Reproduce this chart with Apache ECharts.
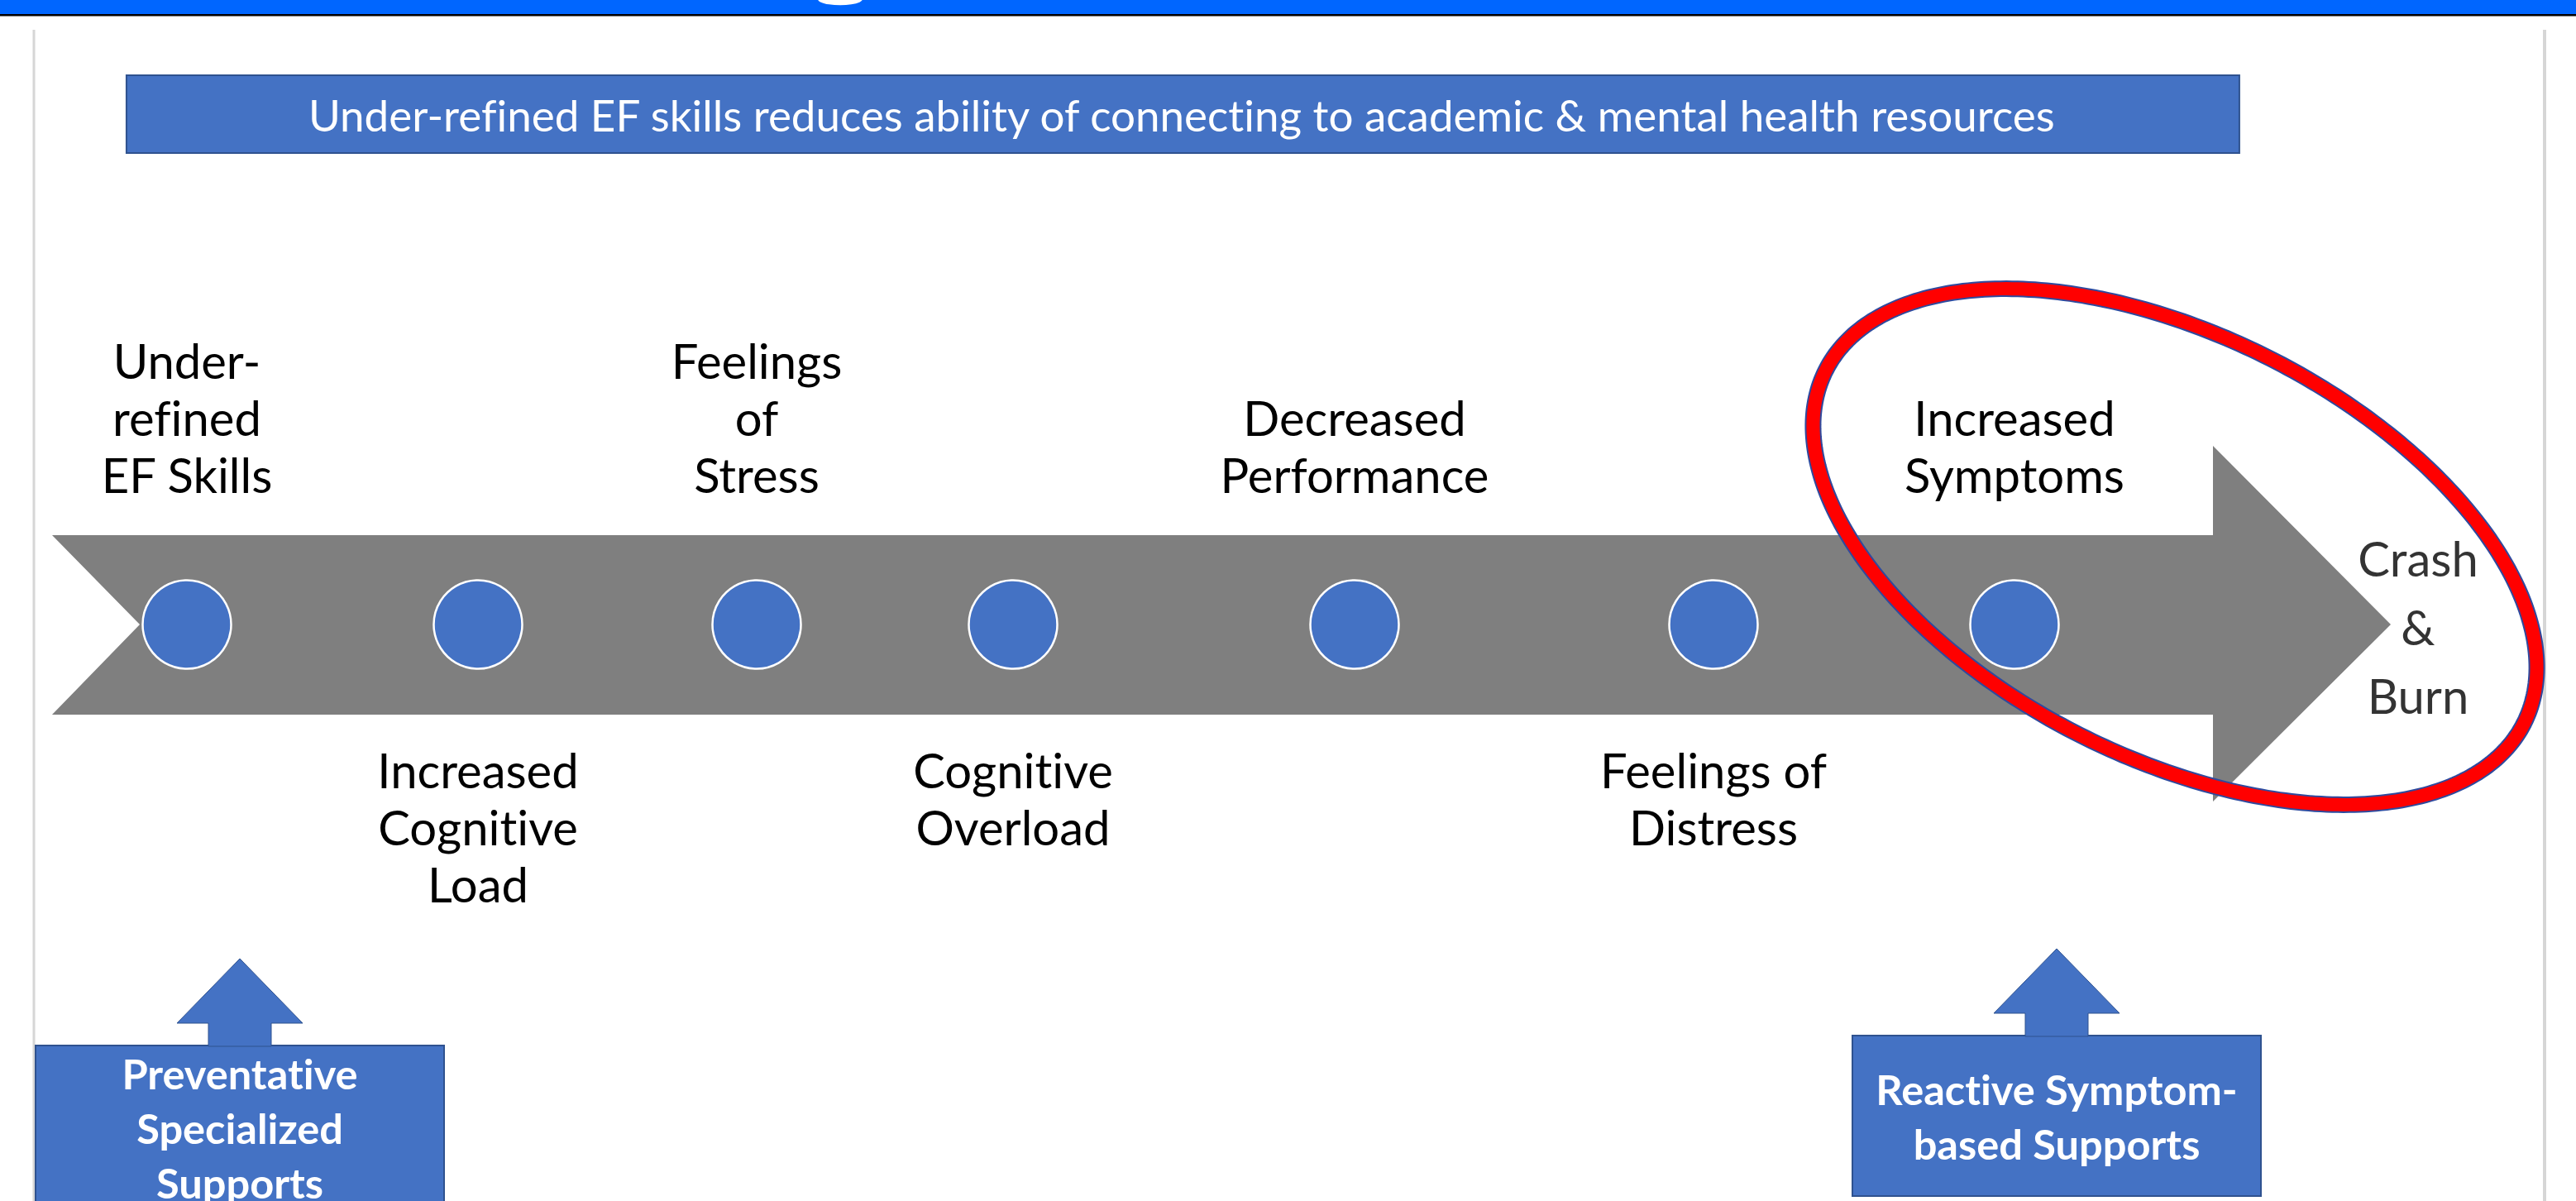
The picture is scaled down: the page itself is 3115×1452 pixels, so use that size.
<!DOCTYPE html>
<html>
<head>
<meta charset="utf-8">
<title>EF skills pathway</title>
<script src="https://cdn.jsdelivr.net/npm/echarts@6/dist/echarts.min.js"></script>
<style>
  html, body { margin: 0; padding: 0; background: #fff; }
  #chart { width: 3115px; height: 1452px; }
  #chart text { font-variant-ligatures: none; }
</style>
</head>
<body>
<div id="chart"></div>
<script>
// stages along the timeline (x values)
const stages = [
  'Under-\nrefined\nEF Skills',
  'Increased\nCognitive\nLoad',
  'Feelings\nof\nStress',
  'Cognitive\nOverload',
  'Decreased\nPerformance',
  'Feelings of\nDistress',
  'Increased\nSymptoms'
]
const stageX = [226, 578, 915, 1225, 1638, 2072, 2436]
const stageSide = ['top', 'bottom', 'top', 'bottom', 'top', 'bottom', 'top']
const outcome = 'Crash\n&\nBurn'
const outcomeX = 2924
const timeline = [63, 2891] // tail, tip
const supports = ['Preventative\nSpecialized\nSupports', 'Reactive Symptom-\nbased Supports']
const supportX = [290, 2487]
const headline = 'Under-refined EF skills reduces ability of connecting to academic & mental health resources'

const FONT = 'Lato, Carlito, Calibri, sans-serif'
const BLUE = '#4472C4'
const MID_Y = 755

// size Lato so widths match the original text
const ctx = document.createElement('canvas').getContext('2d')
function fitSize(text, weight, target) {
  ctx.font = weight + ' 100px ' + FONT
  return 100 * target / ctx.measureText(text).width
}
const labelSize = fitSize('Performance', 'normal', 325)
const headSize = fitSize(headline, 'normal', 2116)
const boxSize = fitSize('Preventative', 'bold', 286)
ctx.font = 'normal ' + headSize + 'px ' + FONT
const headWidth = ctx.measureText(headline).width
const headLine = 56

const chart = echarts.init(document.getElementById('chart'), null, { renderer: 'svg' })

chart.setOption({
  animation: false,
  backgroundColor: '#fff',
  title: {
    text: headline,
    left: 153,
    top: 91,
    padding: [(94 - headLine) / 2, (2555 - headWidth) / 2],
    backgroundColor: BLUE,
    borderColor: '#2F528F',
    borderWidth: 2,
    textStyle: {
      color: '#fff',
      fontFamily: FONT,
      fontWeight: 'normal',
      fontSize: headSize,
      lineHeight: headLine
    }
  },
  grid: { left: 0, right: 0, top: 0, bottom: 0 },
  xAxis: { type: 'value', min: 0, max: 3115, show: false },
  yAxis: { type: 'value', min: 0, max: 1452, inverse: true, show: false },
  graphic: [
    { type: 'rect', shape: { x: 0, y: 0, width: 3115, height: 17 }, style: { fill: '#0066FF' }, z: 10 },
    { type: 'circle', x: 1016, y: -1, scaleY: 0.27, shape: { cx: 0, cy: 0, r: 27 }, style: { fill: '#fff' }, z: 11 },
    { type: 'rect', shape: { x: 0, y: 17, width: 3115, height: 2.5 }, style: { fill: '#000' }, z: 10 },
    { type: 'line', shape: { x1: 41, y1: 36, x2: 41, y2: 1452 }, style: { stroke: '#D6D6D6', lineWidth: 3 }, z: 0 },
    { type: 'line', shape: { x1: 3077, y1: 36, x2: 3077, y2: 1452 }, style: { stroke: '#D6D6D6', lineWidth: 4 }, z: 0 }
  ],
  series: [
    {
      // big grey timeline arrow
      type: 'custom',
      name: 'timeline',
      z: 1,
      silent: true,
      data: [timeline],
      renderItem: function (params, api) {
        const tail = api.value(0)
        const tip = api.value(1)
        const headBase = tip - 215
        const pts = [
          [tail, MID_Y - 108], [headBase, MID_Y - 108], [headBase, MID_Y - 216], [tip, MID_Y],
          [headBase, MID_Y + 214], [headBase, MID_Y + 109], [tail, MID_Y + 109], [tail + 106, MID_Y]
        ]
        return {
          type: 'polygon',
          shape: { points: pts.map(p => api.coord(p)) },
          style: { fill: '#7F7F7F' }
        }
      }
    },
    {
      type: 'scatter',
      name: 'stages',
      z: 2,
      symbol: 'circle',
      symbolSize: 107,
      itemStyle: { color: BLUE, borderColor: '#fff', borderWidth: 2.5, opacity: 1 },
      label: {
        show: true,
        formatter: '{b}',
        color: '#000',
        fontFamily: FONT,
        fontSize: labelSize,
        lineHeight: 69,
        align: 'center'
      },
      data: stages.map((s, i) => ({
        name: s,
        value: [stageX[i], MID_Y],
        label: { position: stageSide[i], distance: stageSide[i] === 'top' ? 92 : 86 }
      }))
    },
    {
      // red highlight ring
      type: 'custom',
      name: 'highlight',
      z: 3,
      silent: true,
      data: [[2630, 661]],
      renderItem: function (params, api) {
        const cx = api.value(0)
        const cy = api.value(1)
        const a = 473, b = 255, th = 26.8 * Math.PI / 180
        const pts = []
        for (let k = 0; k < 360; k++) {
          const t = k / 360 * Math.PI * 2
          const ex = a * Math.cos(t), ey = b * Math.sin(t)
          pts.push(api.coord([cx + ex * Math.cos(th) - ey * Math.sin(th), cy + ex * Math.sin(th) + ey * Math.cos(th)]))
        }
        return {
          type: 'group',
          children: [
            { type: 'polygon', shape: { points: pts }, style: { fill: 'none', stroke: '#2E4A9E', lineWidth: 20 } },
            { type: 'polygon', shape: { points: pts }, style: { fill: 'none', stroke: '#FF0000', lineWidth: 16 } }
          ]
        }
      }
    },
    {
      type: 'scatter',
      name: 'outcome',
      z: 4,
      symbolSize: 1,
      itemStyle: { color: 'rgba(0,0,0,0)' },
      label: {
        show: true,
        position: 'inside',
        formatter: '{b}',
        color: '#000',
        fontFamily: FONT,
        fontSize: labelSize,
        lineHeight: 83,
        align: 'center'
      },
      data: [{ name: outcome, value: [outcomeX, 757] }]
    },
    {
      // support boxes with up arrows
      type: 'custom',
      name: 'supports',
      z: 5,
      silent: true,
      data: supports.map((s, i) => ({ name: s, value: [supportX[i], i] })),
      renderItem: function (params, api) {
        const x = api.value(0)
        const i = api.value(1)
        const top = [1264, 1252][i]
        const bottom = [1462, 1446][i]
        const half = 247
        const shaft = 38, head = 76
        const box = [[x - half, top], [x + half, top], [x + half, bottom], [x - half, bottom]]
        const arrow = [
          [x - shaft, top + 1], [x - shaft, top - 27], [x - head, top - 27], [x, top - 105],
          [x + head, top - 27], [x + shaft, top - 27], [x + shaft, top + 1]
        ]
        const mid = api.coord([x, (top + bottom) / 2])
        return {
          type: 'group',
          children: [
            { type: 'polygon', shape: { points: box.map(p => api.coord(p)) }, style: { fill: BLUE, stroke: '#2F528F', lineWidth: 2 } },
            { type: 'polygon', shape: { points: arrow.map(p => api.coord(p)) }, style: { fill: BLUE, stroke: '#2F528F', lineWidth: 1 } },
            {
              type: 'text',
              style: {
                text: supports[i],
                x: mid[0],
                y: mid[1],
                align: 'center',
                verticalAlign: 'middle',
                fill: '#fff',
                fontFamily: FONT,
                fontWeight: 'bold',
                fontSize: boxSize,
                lineHeight: 66
              }
            }
          ]
        }
      }
    }
  ]
})
</script>
</body>
</html>
